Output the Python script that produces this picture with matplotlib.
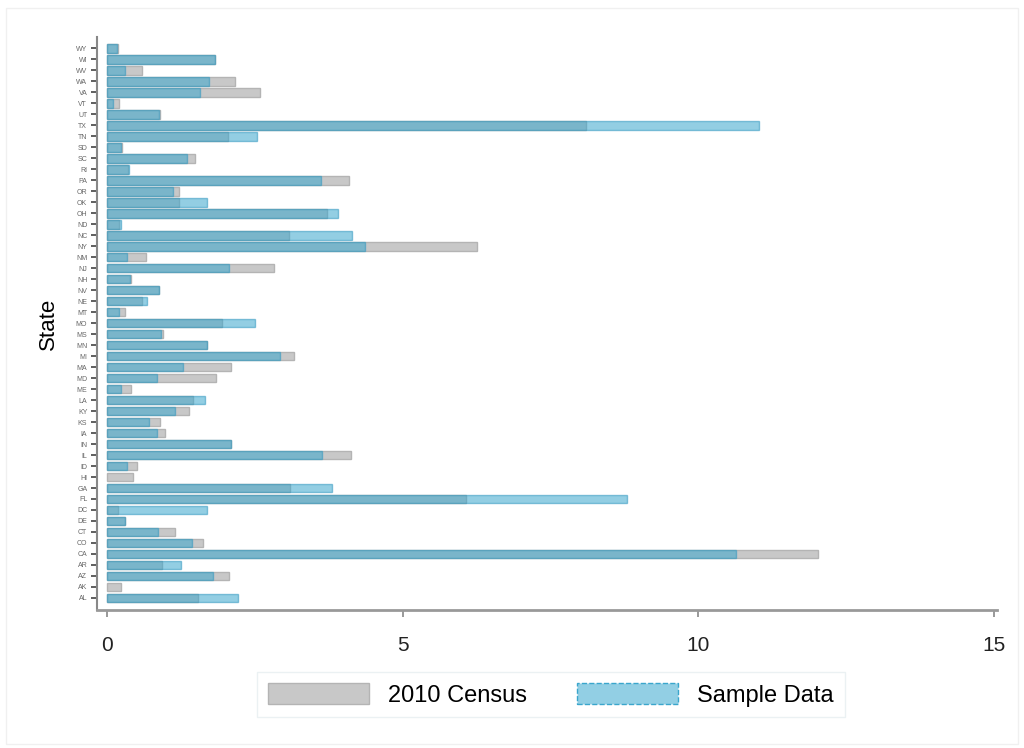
import matplotlib
matplotlib.use("Agg")
import matplotlib.pyplot as plt
from matplotlib.patches import Patch, Rectangle

plt.rcParams["font.family"] = ["Liberation Sans", "DejaVu Sans"]

states = ["AL", "AK", "AZ", "AR", "CA", "CO", "CT", "DE", "DC", "FL", "GA", "HI", "ID",
          "IL", "IN", "IA", "KS", "KY", "LA", "ME", "MD", "MA", "MI", "MN", "MS", "MO",
          "MT", "NE", "NV", "NH", "NJ", "NM", "NY", "NC", "ND", "OH", "OK", "OR", "PA",
          "RI", "SC", "SD", "TN", "TX", "UT", "VT", "VA", "WA", "WV", "WI", "WY"]

census = [1.53, 0.24, 2.06, 0.93, 12.03, 1.62, 1.15, 0.30, 0.19, 6.07, 3.10, 0.44, 0.51,
          4.13, 2.09, 0.98, 0.89, 1.38, 1.45, 0.40, 1.85, 2.09, 3.17, 1.69, 0.94, 1.94,
          0.30, 0.59, 0.88, 0.41, 2.83, 0.66, 6.25, 3.08, 0.20, 3.72, 1.21, 1.21, 4.10,
          0.36, 1.48, 0.25, 2.04, 8.10, 0.89, 0.20, 2.58, 2.16, 0.59, 1.82, 0.18]

sample = [2.22, 0.00, 1.79, 1.25, 10.64, 1.43, 0.86, 0.31, 1.69, 8.80, 3.81, 0.00, 0.34,
          3.64, 2.09, 0.84, 0.71, 1.15, 1.65, 0.24, 0.84, 1.28, 2.93, 1.69, 0.92, 2.51,
          0.20, 0.67, 0.88, 0.39, 2.06, 0.34, 4.37, 4.15, 0.24, 3.91, 1.69, 1.11, 3.61,
          0.37, 1.35, 0.24, 2.53, 11.03, 0.88, 0.10, 1.58, 1.72, 0.30, 1.82, 0.17]

xticks = [0, 5, 10, 15]

fig = plt.figure(figsize=(10.24, 7.48), dpi=100)
ax = fig.add_axes([0.0947, 0.1845, 0.879, 0.7655])

ypos = list(range(len(states)))
ax.barh(ypos, census, height=0.78, color="#c8c8c8", edgecolor="#b4b4b4",
        linewidth=1.0, label="2010 Census", zorder=2)
bars = ax.barh(ypos, sample, height=0.78, color="#3aa6cc", alpha=0.55, edgecolor="#2f97bf",
               linewidth=1.0, label="Sample Data", zorder=3)
for b, v in zip(bars, sample):
    if v == 0:
        b.set_linewidth(0)

ax.set_xlim(-0.17, 15.05)
ax.set_ylim(-1.1, len(states) - 1 + 1.0)
ax.set_yticks(ypos)
ax.set_yticklabels(states, fontsize=5, color="#666666")
ax.set_xticks(xticks)
ax.set_xticklabels([str(t) for t in xticks], fontsize=15, color="#222222")
ax.tick_params(axis="y", length=4, width=1.2, color="#444444", pad=3)
ax.tick_params(axis="x", length=5, width=1.2, color="#888888", pad=14)
ax.set_ylabel("State", fontsize=16, labelpad=12)

for s in ["top", "right"]:
    ax.spines[s].set_visible(False)
ax.spines["left"].set_color("#888888")
ax.spines["left"].set_linewidth(1.5)
ax.spines["bottom"].set_color("#999999")
ax.spines["bottom"].set_linewidth(2)

handles = [Patch(facecolor="#c8c8c8", edgecolor="#b4b4b4", label="2010 Census"),
           Patch(facecolor="#92cfe4", edgecolor="#3aa6cc", linestyle="--", label="Sample Data")]
leg = fig.legend(handles=handles, loc="center", bbox_to_anchor=(0.538, 0.0715), ncol=2,
                 fontsize=17, frameon=True, fancybox=False, handlelength=4.3,
                 handleheight=1.05, columnspacing=2.1, borderpad=0.45, handletextpad=0.8)
leg.get_frame().set_edgecolor("#e6eef0")
leg.get_frame().set_linewidth(1.0)

fig.patches.append(Rectangle((0.006, 0.006), 0.988, 0.983, transform=fig.transFigure,
                             fill=False, edgecolor="#f0f0f0", linewidth=1.0))

fig.savefig("out.png", dpi=100)
